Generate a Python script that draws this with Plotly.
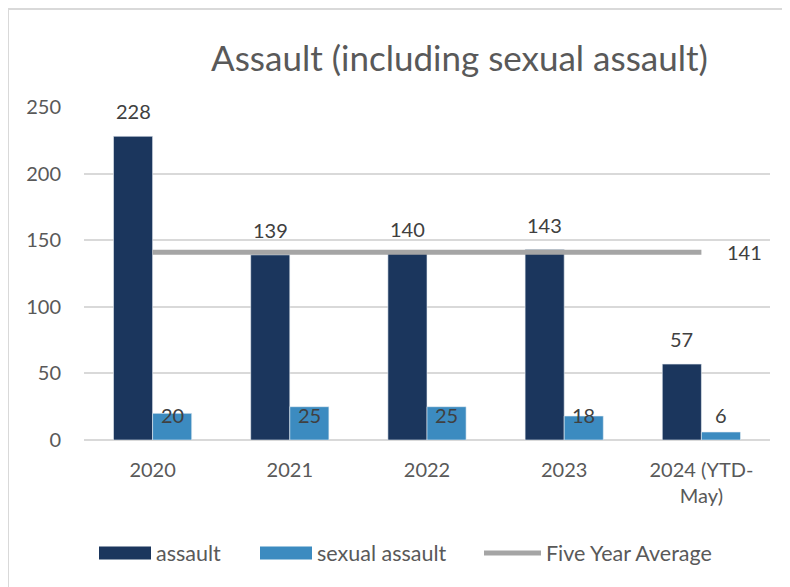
import plotly.graph_objects as go

years = ['2020', '2021', '2022', '2023', '2024 (YTD-<br>May)']
assault = [228, 139, 140, 143, 57]
sexual_assault = [20, 25, 25, 18, 6]
five_year_avg = [141, 141, 141, 141, 141]
series_names = ['assault', 'sexual assault', 'Five Year Average']

navy = '#1B365D'
blue = '#3C8BC0'
grey = '#A5A5A5'
text_col = '#595959'
label_col = '#404040'
font = 'Lato'

# figure size and plot area in figure pixels (page has an 8px body margin)
FW, FH = 782, 579
L, T, W, H = 76, 99, 686, 333


def px(x):
    return (x - 8 - L) / W


def py(y):
    return (T + H - (y - 8)) / H


data = [
    go.Bar(x=years, y=assault, name=series_names[0], showlegend=False,
           marker=dict(color=navy, line=dict(color='#E8EEF4', width=0.6))),
    go.Bar(x=years, y=sexual_assault, name=series_names[1], showlegend=False,
           marker=dict(color=blue, line=dict(color='#E8EEF4', width=0.6))),
    go.Scatter(x=years, y=five_year_avg, name=series_names[2], showlegend=False,
               mode='lines', line=dict(color=grey, width=5)),
]

# data labels, placed like the Excel original (x as category index)
annotations = []
for i, v in enumerate(assault):
    annotations.append(dict(x=i, y=v, text=str(v), showarrow=False,
                            xshift=-19.5, yshift=25, yanchor='middle',
                            font=dict(size=20, color=label_col, family=font)))
sexual_label_y = 19
for i, v in enumerate(sexual_assault):
    annotations.append(dict(x=i, y=sexual_label_y, text=str(v), showarrow=False,
                            xshift=19.5, yanchor='middle',
                            font=dict(size=20, color=label_col, family=font)))
annotations.append(dict(x=len(years) - 1, y=five_year_avg[-1], text=str(five_year_avg[-1]),
                        showarrow=False, xanchor='left', xshift=24, yanchor='middle',
                        font=dict(size=20, color=label_col, family=font)))
annotations.append(dict(xref='paper', yref='paper', x=px(460), y=py(57),
                        text='Assault (including sexual assault)', showarrow=False,
                        xanchor='center', yanchor='middle',
                        font=dict(size=35, color=text_col, family=font)))

# chart frame: only top and left edges are inside the picture
frame = dict(color='#D9D9D9', width=2)
shapes = [
    dict(type='line', xref='paper', yref='paper', x0=px(8), x1=px(790),
         y0=py(9), y1=py(9), line=frame, layer='below'),
    dict(type='line', xref='paper', yref='paper', x0=px(8), x1=px(8),
         y0=py(9), y1=py(587), line=frame, layer='below'),
]

# legend drawn by hand so the keys are wide Excel-style swatches
leg_y = 553
keys = [(99, 151, navy, 'rect'), (260, 312, blue, 'rect'), (484, 541, grey, 'line')]
for (x0, x1, col, kind), name in zip(keys, series_names):
    if kind == 'rect':
        shapes.append(dict(type='rect', xref='paper', yref='paper',
                           x0=px(x0), x1=px(x1), y0=py(leg_y + 6.5), y1=py(leg_y - 6.5),
                           fillcolor=col, line=dict(width=0)))
    else:
        shapes.append(dict(type='line', xref='paper', yref='paper',
                           x0=px(x0), x1=px(x1), y0=py(leg_y), y1=py(leg_y),
                           line=dict(color=col, width=5)))
    annotations.append(dict(xref='paper', yref='paper', x=px(x1 + 3), y=py(leg_y),
                            text=name, showarrow=False, xanchor='left', yanchor='middle',
                            font=dict(size=21.5, color=text_col, family=font)))

layout = go.Layout(
    width=FW, height=FH,
    margin=dict(l=L, r=FW - L - W, t=T, b=FH - T - H),
    paper_bgcolor='white', plot_bgcolor='white',
    font=dict(family=font, size=20, color=text_col),
    barmode='group', bargap=0.43, bargroupgap=0,
    xaxis=dict(type='category', showline=False, ticks='',
               tickfont=dict(size=20, color=text_col), ticklabelstandoff=16),
    yaxis=dict(range=[0, 250], dtick=50, showgrid=True, gridcolor='#D9D9D9',
               gridwidth=1.5, zeroline=True, zerolinecolor='#D9D9D9', zerolinewidth=1.5,
               showline=False, ticks='', ticklabelstandoff=22,
               tickfont=dict(size=20, color=text_col)),
    annotations=annotations,
    shapes=shapes,
    showlegend=False,
)

fig = go.Figure(data=data, layout=layout)
fig.write_html("out.html")
